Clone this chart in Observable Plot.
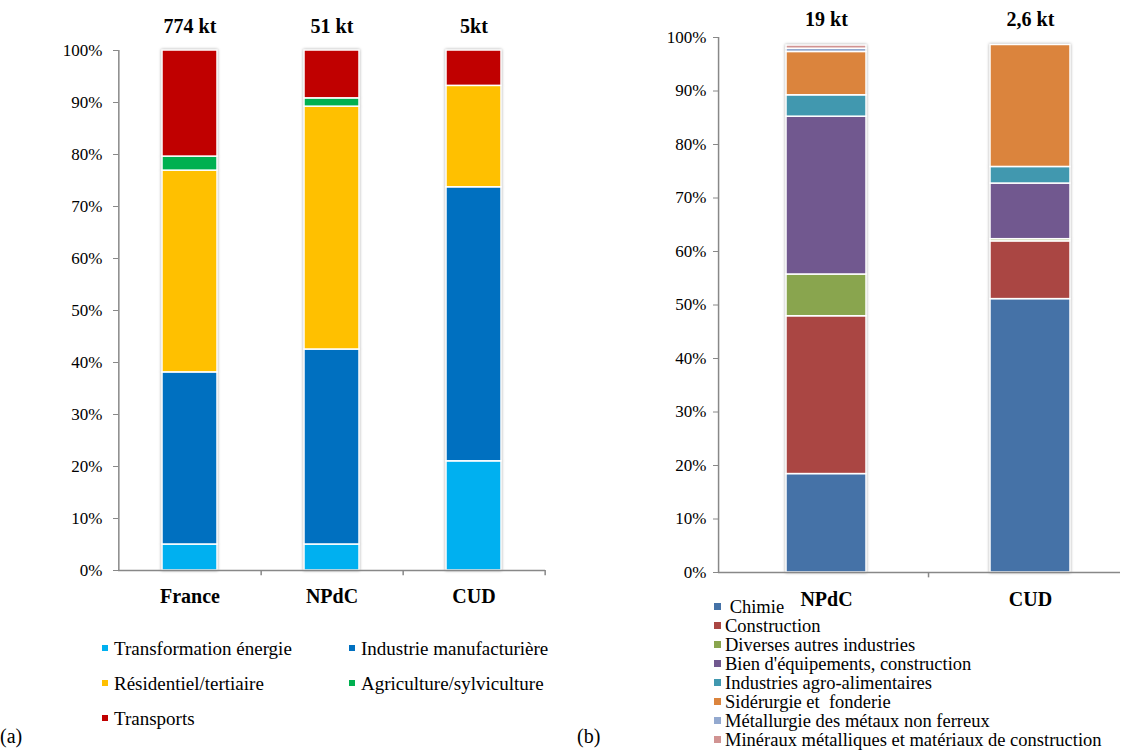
<!DOCTYPE html>
<html><head><meta charset="utf-8">
<script src="https://cdn.jsdelivr.net/npm/d3@7"></script>
<script src="https://cdn.jsdelivr.net/npm/@observablehq/plot@0.6"></script>
<style>
body{margin:0;background:#fff;font-family:"Liberation Serif","Times New Roman",serif;}
#wrap{position:relative;width:1129px;height:751px;overflow:hidden;background:#fff;}
.panel{position:absolute;top:0;}
.panel g[aria-label="bar"]{filter:drop-shadow(0 0 1.5px rgba(0,0,0,0.35));}
.leg{position:absolute;font-size:18.5px;color:#000;white-space:pre;}
#legA{display:grid;grid-template-columns:247px 240px;grid-auto-rows:35px;align-items:center;font-size:19px;}
#legA .sw{width:6px;height:6px;margin-right:6px;}
.sw{display:inline-block;width:7px;height:7px;margin-right:4px;vertical-align:middle;position:relative;top:-2px;}
.tag{position:absolute;font-size:20px;color:#000;}
</style></head>
<body>
<div id="wrap">
  <div id="a" class="panel" style="left:0"></div>
  <div id="b" class="panel" style="left:560px"></div>
  <div id="legA" class="leg" style="left:102px;top:631px;"></div>
  <div id="legB" class="leg" style="left:714px;top:598px;line-height:19px;"></div>
  <div class="tag" style="left:0;top:725px;">(a)</div>
  <div class="tag" style="left:577px;top:725px;">(b)</div>
</div>
<script>
// ---------- Data (a) ----------
const catsA = ["France", "NPdC", "CUD"];
const totalsA = ["774 kt", "51 kt", "5kt"];
const seriesA = ["Transformation énergie", "Industrie manufacturière", "Résidentiel/tertiaire", "Agriculture/sylviculture", "Transports"];
const transformationEnergie = [5.0, 5.0, 21.0];
const industrieManufacturiere = [33.1, 37.5, 52.7];
const residentielTertiaire = [38.8, 46.7, 19.5];
const agricultureSylviculture = [2.7, 1.6, 0.0];
const transports = [20.4, 9.2, 6.8];

// ---------- Data (b) ----------
const catsB = ["NPdC", "CUD"];
const totalsB = ["19 kt", "2,6 kt"];
const seriesB = [" Chimie", "Construction", "Diverses autres industries", "Bien d'équipements, construction", "Industries agro-alimentaires", "Sidérurgie et  fonderie", "Métallurgie des métaux non ferreux", "Minéraux métalliques et matériaux de construction"];
const chimie = [18.4, 51.1];
const construction = [29.5, 10.8];
const diversesAutres = [7.8, 0.4];
const bienEquipements = [29.5, 10.4];
const agroAlimentaires = [4.0, 3.1];
const siderurgie = [8.1, 22.8];
const metallurgie = [0.6, 0.0];
const mineraux = [0.6, 0.0];

const yTicks = [0, 10, 20, 30, 40, 50, 60, 70, 80, 90, 100];

// ---------- Styles ----------
const colorsA = ["#00B0F0", "#0070C0", "#FFC000", "#00B050", "#C00000"];
const colorsB = ["#4572A7", "#AA4643", "#89A54E", "#71588F", "#4198AF", "#DB843D", "#93A9CF", "#D19392"];

function rows(cats, series, values) {
  return series.flatMap((s, i) => cats.map((c, j) => ({cat: c, series: s, value: values[i][j]})))
    .filter(d => d.value > 0);
}
const rowsA = rows(catsA, seriesA, [transformationEnergie, industrieManufacturiere, residentielTertiaire, agricultureSylviculture, transports]);
const rowsB = rows(catsB, seriesB, [chimie, construction, diversesAutres, bienEquipements, agroAlimentaires, siderurgie, metallurgie, mineraux]);

const font = '"Liberation Serif", "Times New Roman", serif';

function panel(cfg) {
  const {cats, totals, series, colors, data, width, height, mt, ml, mr, mb, pi, po, align, tickPad, labelPad, totalDy, endTicks} = cfg;
  const n = cats.length;
  const range = width - ml - mr;
  const step = range / (n - pi + 2 * po);
  const bw = step * (1 - pi);
  const firstCenterOffset = (range - step * (n - pi)) * align + bw / 2;
  const yMax = 100;
  const tickCats = endTicks ? cats : cats.slice(0, -1);
  return Plot.plot({
    width, height, marginTop: mt, marginLeft: ml, marginRight: mr, marginBottom: mb,
    style: {fontFamily: font, fontSize: "17px", color: "#000", background: "transparent", overflow: "visible"},
    x: {domain: cats, paddingInner: pi, paddingOuter: po, align, axis: null},
    y: {domain: [0, yMax], axis: null},
    color: {domain: series, range: colors},
    marks: [
      Plot.barY(data, {x: "cat", y: "value", fill: "series", z: "series", stroke: "white", strokeWidth: 1.5}),
      Plot.ruleY([0], {stroke: "#888", strokeWidth: 1.5}),
      Plot.ruleX([cats[0]], {x: d => d, y1: 0, y2: yMax, dx: -firstCenterOffset, stroke: "#888", strokeWidth: 1.5}),
      Plot.ruleX(tickCats, {x: d => d, y1: 0, y2: -1, dx: step / 2, stroke: "#888", strokeWidth: 1.5}),
      Plot.axisY({ticks: yTicks, tickFormat: d => d + "%", tickSize: 5, tickPadding: tickPad, stroke: "#888", fontSize: 17, label: null}),
      Plot.axisX({tickSize: 0, tickPadding: labelPad, fontSize: 20, fontWeight: "bold", label: null}),
      Plot.text(cats, {x: d => d, y: () => yMax, text: (d, i) => totals[i], dy: totalDy, fontSize: 20, fontWeight: "bold", fill: "#000"})
    ]
  });
}

document.getElementById("a").append(panel({
  cats: catsA, totals: totalsA, series: seriesA, colors: colorsA, data: rowsA,
  width: 560, height: 615, mt: 50, ml: 118, mr: 15, mb: 45,
  pi: 0.61, po: 0.305, align: 0.5, tickPad: 11, labelPad: 18, totalDy: -24, endTicks: true
}));

document.getElementById("b").append(panel({
  cats: catsB, totals: totalsB, series: seriesB, colors: colorsB, data: rowsB,
  width: 569, height: 615, mt: 37, ml: 158, mr: 9, mb: 43,
  pi: 0.608, po: 0.289, align: 0.576, tickPad: 7, labelPad: 19, totalDy: -18, endTicks: false
}));

// ---------- Legends ----------
const legA = document.getElementById("legA");
legA.innerHTML = seriesA.map((s, i) =>
  `<div><span class="sw" style="background:${colorsA[i]}"></span>${s}</div>`
).join("");
const legB = document.getElementById("legB");
legB.innerHTML = seriesB.map((s, i) =>
  `<div><span class="sw" style="background:${colorsB[i]}"></span>${s}</div>`
).join("");
</script>
</body></html>
